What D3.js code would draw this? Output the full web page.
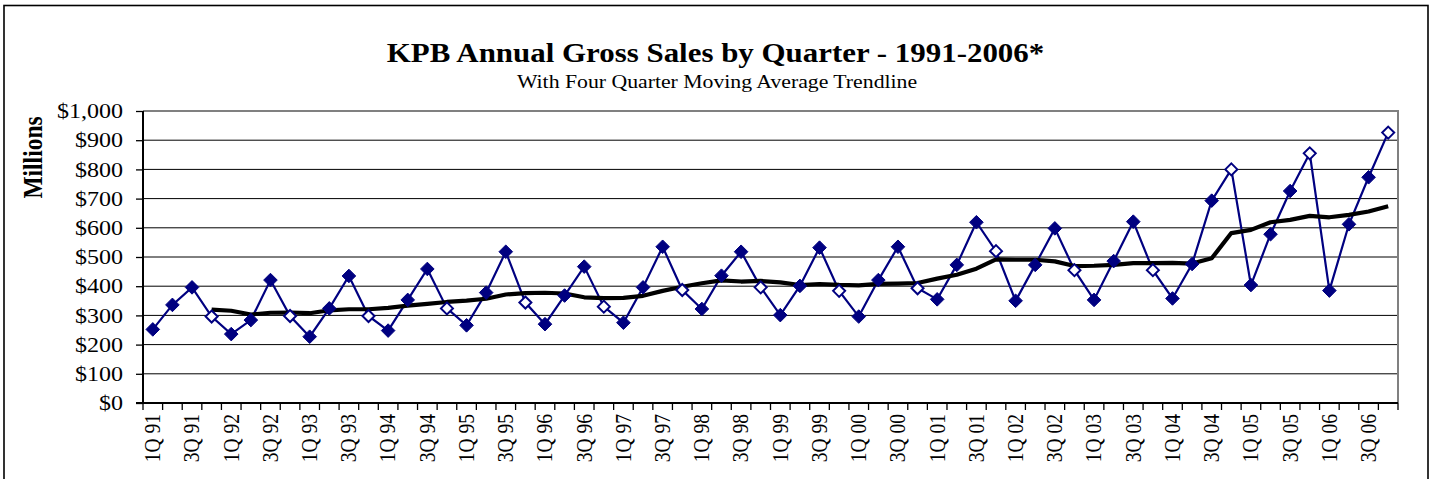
<!DOCTYPE html>
<html>
<head>
<meta charset="utf-8">
<script src="https://cdn.jsdelivr.net/npm/d3@7"></script>
<style>
  html, body { margin: 0; padding: 0; background: #fff; }
  svg { display: block; }
  text { font-family: "Liberation Serif", "Times New Roman", serif; fill: #000; }
</style>
</head>
<body>
<svg id="chart" width="1435" height="479"></svg>
<script>
const categories = [
  "1Q 91","2Q 91","3Q 91","4Q 91","1Q 92","2Q 92","3Q 92","4Q 92",
  "1Q 93","2Q 93","3Q 93","4Q 93","1Q 94","2Q 94","3Q 94","4Q 94",
  "1Q 95","2Q 95","3Q 95","4Q 95","1Q 96","2Q 96","3Q 96","4Q 96",
  "1Q 97","2Q 97","3Q 97","4Q 97","1Q 98","2Q 98","3Q 98","4Q 98",
  "1Q 99","2Q 99","3Q 99","4Q 99","1Q 00","2Q 00","3Q 00","4Q 00",
  "1Q 01","2Q 01","3Q 01","4Q 01","1Q 02","2Q 02","3Q 02","4Q 02",
  "1Q 03","2Q 03","3Q 03","4Q 03","1Q 04","2Q 04","3Q 04","4Q 04",
  "1Q 05","2Q 05","3Q 05","4Q 05","1Q 06","2Q 06","3Q 06","4Q 06"
];
const salesValues = [
  252,336,396,296, 236,284,421,298, 227,324,435,298, 248,353,459,324,
  266,378,518,344, 270,368,467,330, 275,396,535,387, 322,436,518,396,
  301,401,532,384, 296,421,535,393, 355,473,619,520, 350,473,598,455,
  353,486,621,455, 358,476,693,800, 404,578,726,855, 385,612,773,926
];
const movingAverage = [
  null,null,null,320, 316,303,309,310, 307.5,317.5,321,321, 326,333.5,339.5,346,
  350.5,357,371.5,376.5, 377.5,375,362,359, 360,367,384,398, 410,420,416,418,
  413,404,407.5,404.5, 403,408,409,411, 426,439,460,492, 490.5,490.5,485,469,
  470,473,479,479, 480,477.5,495.5,582, 593,619,627,641, 636,644.5,656,674
];
const yTicks = [0,100,200,300,400,500,600,700,800,900,1000];
const titleText = "KPB Annual Gross Sales by Quarter - 1991-2006*";
const subtitleText = "With Four Quarter Moving Average Trendline";
const yAxisTitle = "Millions";

const SX = 1.145; // horizontal text stretch seen in the reference
const svg = d3.select("#chart");
const plot = { left: 143, right: 1398, top: 111, bottom: 403 };

// outer frame
svg.append("rect").attr("x", 4).attr("y", 5.5).attr("width", 1424).attr("height", 520)
  .attr("fill", "none").attr("stroke", "#000").attr("stroke-width", 1.6);

const x = d3.scaleBand().domain(categories).range([plot.left, plot.right]).padding(0);
const y = d3.scaleLinear().domain([0, 1000]).range([plot.bottom, plot.top]);
const cx = c => x(c) + x.bandwidth() / 2;

// gridlines
svg.append("g").selectAll("line").data(yTicks.filter(d => d > 0 && d < 1000)).join("line")
  .attr("x1", plot.left).attr("x2", plot.right)
  .attr("y1", d => y(d)).attr("y2", d => y(d))
  .attr("stroke", "#000").attr("stroke-width", 1);

// plot area border (top/right gray)
svg.append("path")
  .attr("d", `M${plot.left},${y(1000)}H${plot.right}V${plot.bottom}`)
  .attr("fill", "none").attr("stroke", "#808080").attr("stroke-width", 2);

// y axis ticks via d3 axis, labels drawn with stretch
const yAxis = d3.axisLeft(y).tickValues(yTicks).tickSize(7).tickFormat("");
const gy = svg.append("g").attr("transform", `translate(${plot.left},0)`).call(yAxis);
gy.select(".domain").remove();
gy.selectAll(".tick line").attr("stroke", "#000").attr("stroke-width", 1.3);
svg.append("g").selectAll("text").data(yTicks).join("text")
  .attr("transform", d => `translate(${plot.left - 20},${y(d)}) scale(${SX},1)`)
  .attr("text-anchor", "end").attr("dy", "0.34em").attr("font-size", 21)
  .text(d => "$" + d3.format(",")(d));
svg.append("line").attr("x1", plot.left).attr("x2", plot.left).attr("y1", plot.top).attr("y2", plot.bottom)
  .attr("stroke", "#000").attr("stroke-width", 2);

// x axis: ticks at category boundaries
const boundaries = categories.map(c => x(c)).concat([x.range()[1]]);
svg.append("g").selectAll("line").data(boundaries).join("line")
  .attr("x1", d => d).attr("x2", d => d).attr("y1", plot.bottom).attr("y2", plot.bottom + 7)
  .attr("stroke", "#000").attr("stroke-width", 1.3);
svg.append("line").attr("x1", plot.left - 7).attr("x2", plot.right).attr("y1", plot.bottom).attr("y2", plot.bottom)
  .attr("stroke", "#000").attr("stroke-width", 2);
svg.append("g").selectAll("text").data(categories.filter((c, i) => i % 2 === 0)).join("text")
  .attr("transform", c => `translate(${cx(c)},${plot.bottom + 11}) scale(${SX},1) rotate(-90)`)
  .attr("text-anchor", "end").attr("dy", "0.33em")
  .attr("font-size", 19.5).text(c => c);

// sales line
const line = d3.line().x((d, i) => cx(categories[i])).y(d => y(d));
svg.append("path").datum(salesValues).attr("d", line)
  .attr("fill", "none").attr("stroke", "#000080").attr("stroke-width", 2.2).attr("stroke-linejoin", "miter");

// moving average
const maLine = d3.line().defined(d => d != null).x((d, i) => cx(categories[i])).y(d => y(d));
svg.append("path").datum(movingAverage).attr("d", maLine)
  .attr("fill", "none").attr("stroke", "#000").attr("stroke-width", 4.2).attr("stroke-linejoin", "round");

// markers
const pts = salesValues.map((v, i) => ({ v, c: categories[i], hollow: categories[i].startsWith("4Q") }));
svg.append("g").selectAll("path").data(pts).join("path")
  .attr("d", d => {
    const r = d.hollow ? 6 : 6.8;
    const X = cx(d.c), Y = y(d.v);
    return `M${X},${Y - r}L${X + r},${Y}L${X},${Y + r}L${X - r},${Y}Z`;
  })
  .attr("fill", d => d.hollow ? "#fff" : "#000080")
  .attr("stroke", "#000080").attr("stroke-width", d => d.hollow ? 2 : 1);

// titles
svg.append("text").attr("transform", `translate(715.5,62) scale(${SX},1)`).attr("text-anchor", "middle")
  .attr("font-size", 27).attr("font-weight", "bold").text(titleText);
svg.append("text").attr("transform", `translate(717,88) scale(${SX},1)`).attr("text-anchor", "middle")
  .attr("font-size", 19).text(subtitleText);
svg.append("text").attr("transform", `translate(42,157.5) scale(${SX},1) rotate(-90)`).attr("text-anchor", "middle")
  .attr("font-size", 23.5).attr("font-weight", "bold").text(yAxisTitle);
</script>
</body>
</html>
